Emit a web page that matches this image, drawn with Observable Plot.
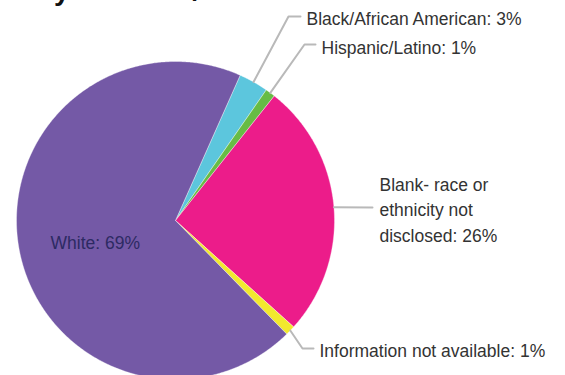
<!DOCTYPE html>
<html>
<head>
<meta charset="utf-8">
<script src="https://cdn.jsdelivr.net/npm/d3@7"></script>
<script src="https://cdn.jsdelivr.net/npm/@observablehq/plot@0.6"></script>
<style>
  html, body { margin: 0; padding: 0; background: #fff; overflow: hidden; width: 565px; height: 375px; }
  #wrap { position: relative; width: 565px; height: 375px; overflow: hidden; }
  #title { position: absolute; right: 66px; top: -23px; white-space: nowrap;
    font: bold 28px/28px "Liberation Sans", Arial, sans-serif; color: #111; }
  #chart { position: absolute; left: 0; top: 0; }
</style>
</head>
<body>
<div id="wrap">
  <div id="chart"></div>
  <div id="title">Race/Ethnicity of Board/Commission Members</div>
</div>
<script>
// ---- data ----
const categories = ["Black/African American", "Hispanic/Latino", "Blank- race or ethnicity not disclosed", "Information not available", "White"];
const values = [3, 1, 26, 1, 69];
const labels = ["Black/African American: 3%", "Hispanic/Latino: 1%", "Blank- race or\nethnicity not\ndisclosed: 26%", "Information not available: 1%", "White: 69%"];

// ---- style / layout ----
const colors = ["#5cc6dd", "#67bc45", "#ec1c8a", "#f2e92e", "#7459a6"];
const cx = 175, cy = 220, R = 159;          // pie geometry (px)
const startDeg = 24;                          // clockwise from north
const u = (px, py) => [(px - cx) / R, (cy - py) / R];
// leader elbow / end and label anchor (px), by category index
const layout = [
  {elbow: [288, 16], end: [300, 16], text: [306, 16], fill: "#333"},
  {elbow: [304, 44], end: [315, 44], text: [321, 45], fill: "#333"},
  {elbow: null, end: [372, 207], text: [379, 207.5], fill: "#333"},
  {elbow: [302, 348], end: [313, 348], text: [319, 348], fill: "#333"},
  {elbow: null, end: null, text: [50, 240], fill: "#2d2a63"}
];

const total = d3.sum(values);
let acc = startDeg;
const slices = values.map((v, i) => {
  const a0 = acc, a1 = acc + v / total * 360;
  acc = a1;
  return {name: categories[i], a0, a1, mid: (a0 + a1) / 2, i};
});
const rad = d => d * Math.PI / 180;

// polygon points for each slice
const slicePts = [];
for (const s of slices) {
  slicePts.push({name: s.name, x: 0, y: 0});
  const n = Math.max(2, Math.ceil((s.a1 - s.a0) / 0.5));
  for (let k = 0; k <= n; k++) {
    const a = rad(s.a0 + (s.a1 - s.a0) * k / n);
    slicePts.push({name: s.name, x: Math.sin(a), y: Math.cos(a)});
  }
  slicePts.push({name: s.name, x: 0, y: 0});
}

// leader lines
const leaderPts = [];
slices.forEach((s, i) => {
  const L = layout[i];
  if (!L.end) return;
  const a = rad(s.mid);
  leaderPts.push({name: s.name, x: Math.sin(a), y: Math.cos(a)});
  if (L.elbow) { const [x, y] = u(...L.elbow); leaderPts.push({name: s.name, x, y}); }
  const [x, y] = u(...L.end); leaderPts.push({name: s.name, x, y});
});

const textData = slices.map((s, i) => {
  const [x, y] = u(...layout[i].text);
  return {x, y, label: labels[i], fill: layout[i].fill};
});

const chart = Plot.plot({
  width: 565, height: 375,
  margin: 0,
  axis: null,
  x: {type: "linear", domain: [-1, 1], range: [cx - R, cx + R]},
  y: {type: "linear", domain: [-1, 1], range: [cy + R, cy - R]},
  color: {type: "ordinal", domain: categories, range: colors},
  style: {fontFamily: "'Liberation Sans', Arial, sans-serif", background: "#fff", overflow: "hidden"},
  marks: [
    Plot.line(slicePts, {x: "x", y: "y", z: "name", fill: "name", stroke: "#ffffff", strokeWidth: 0.6, strokeOpacity: 0.6, curve: "linear"}),
    Plot.line(leaderPts, {x: "x", y: "y", z: "name", stroke: "#b9b9b9", strokeWidth: 2, curve: "linear"}),
    Plot.text(textData, {x: "x", y: "y", text: "label", fill: d => d.fill, textAnchor: "start", lineAnchor: "middle", fontSize: 17.5, lineHeight: 1.46})
  ]
});
document.getElementById("chart").appendChild(chart);
</script>
</body>
</html>
